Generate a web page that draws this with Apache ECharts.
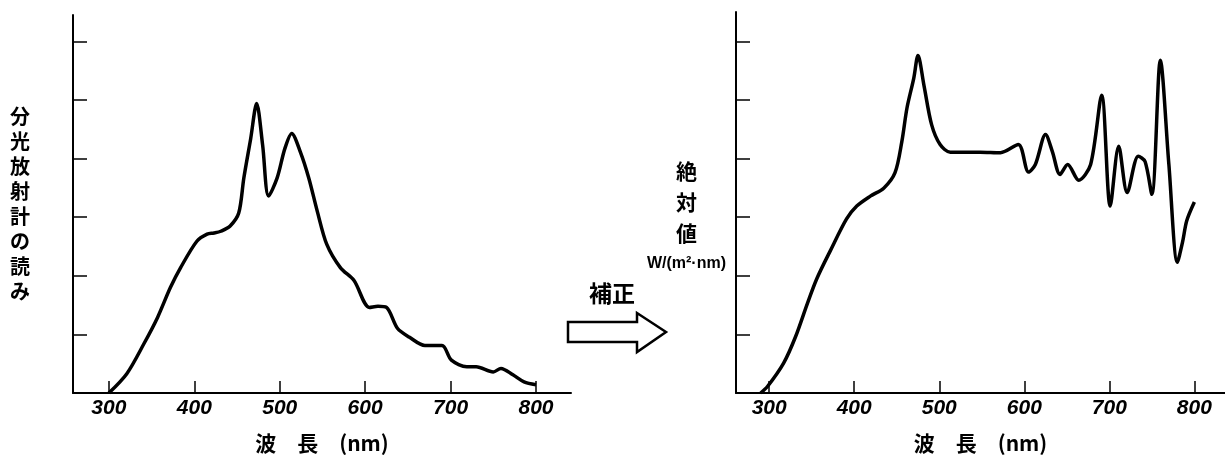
<!DOCTYPE html>
<html>
<head>
<meta charset="utf-8">
<script src="https://cdn.jsdelivr.net/npm/echarts@6/dist/echarts.min.js"></script>
<style>
  html, body { margin: 0; padding: 0; background: #fff; }
  #main { width: 1225px; height: 462px; }
</style>
</head>
<body>
<div id="main"></div>
<script>
// 波長目盛り
const xTicks = [300, 400, 500, 600, 700, 800];
const yTicks = [1, 2, 3, 4, 5, 6];

// 左: 分光放射計の読み
const rawWl = [300, 321, 341, 357, 372, 384, 403, 415, 423, 431, 442, 452, 458, 466, 473, 480, 487, 497, 506, 514, 524, 534, 544, 555, 571, 587, 605, 615, 625, 638, 652, 670, 690, 701, 719, 730, 750, 759, 773, 786, 800];
const rawVal = [0, 0.33, 0.84, 1.29, 1.80, 2.14, 2.59, 2.71, 2.73, 2.76, 2.85, 3.07, 3.67, 4.34, 4.94, 4.23, 3.36, 3.67, 4.17, 4.43, 4.12, 3.67, 3.10, 2.54, 2.14, 1.92, 1.46, 1.48, 1.46, 1.10, 0.95, 0.81, 0.81, 0.56, 0.45, 0.45, 0.36, 0.42, 0.31, 0.19, 0.14];

// 右: 補正後の絶対値
const absWl = [290, 298, 317, 331, 345, 356, 372, 391, 403, 419, 435, 448, 456, 462, 470, 475, 482, 491, 501, 513, 548, 572, 593, 605, 613, 625, 633, 642, 651, 664, 678, 691, 701, 711, 721, 734, 742, 750, 760, 770, 780, 786, 791, 800];
const absVal = [0, 0.11, 0.51, 0.96, 1.53, 1.95, 2.43, 2.97, 3.19, 3.36, 3.50, 3.76, 4.29, 4.86, 5.37, 5.76, 5.25, 4.58, 4.24, 4.11, 4.11, 4.10, 4.24, 3.77, 3.90, 4.41, 4.12, 3.73, 3.90, 3.63, 3.90, 5.08, 3.19, 4.21, 3.42, 4.04, 3.95, 3.39, 5.68, 3.90, 2.23, 2.57, 2.94, 3.26];

const pairs = (xs, ys) => xs.map((x, i) => [x, ys[i]]);

const chart = echarts.init(document.getElementById("main"));

const tickLabel = {
  customValues: xTicks,
  color: "#000",
  fontFamily: "Liberation Sans",
  fontStyle: "italic",
  fontWeight: "bold",
  fontSize: 21,
  margin: 5
};

function makeX(gridIndex, min, max) {
  return {
    type: "value",
    gridIndex: gridIndex,
    min: min,
    max: max,
    name: "波　長　(nm)",
    nameLocation: "middle",
    nameGap: 40,
    nameTextStyle: {
      color: "#000",
      fontFamily: "Noto Sans CJK JP",
      fontWeight: "bold",
      fontSize: 21
    },
    axisLine: { show: true, onZero: false, lineStyle: { color: "#000", width: 2 } },
    axisTick: { show: true, inside: true, length: 12, customValues: xTicks, lineStyle: { color: "#000", width: 1.5 } },
    axisLabel: tickLabel,
    splitLine: { show: false }
  };
}

function makeY(gridIndex, max, nameOpt) {
  return Object.assign({
    type: "value",
    gridIndex: gridIndex,
    min: 0,
    max: max,
    nameLocation: "middle",
    nameRotate: 0,
    axisLine: { show: true, onZero: false, lineStyle: { color: "#000", width: 2 } },
    axisTick: { show: true, inside: true, length: 14, customValues: yTicks, lineStyle: { color: "#000", width: 1.5 } },
    axisLabel: { show: false },
    splitLine: { show: false }
  }, nameOpt);
}

const option = {
  backgroundColor: "#fff",
  animation: false,
  grid: [
    { left: 73, top: 15, width: 498, height: 378 },
    { left: 736, top: 12, width: 489, height: 381 }
  ],
  xAxis: [makeX(0, 258, 841), makeX(1, 261, 836)],
  yAxis: [
    makeY(0, 378 / 58.6, {
      name: "分\n光\n放\n射\n計\nの\n読\nみ",
      nameGap: 43,
      nameTextStyle: {
        color: "#000",
        fontFamily: "Noto Sans CJK JP",
        fontWeight: "bold",
        fontSize: 20,
        lineHeight: 25,
        padding: [24, 0, 0, 0]
      }
    }),
    makeY(1, 381 / 58.6, {
      name: "{a|絶}\n{a|対}\n{a|値}\n{b|W/(m²·nm)}",
      nameGap: 10,
      nameTextStyle: {
        color: "#000",
        padding: [30, 0, 0, 0],
        rich: {
          a: { fontFamily: "Noto Sans CJK JP", fontWeight: "bold", fontSize: 21, lineHeight: 31, align: "center", color: "#000" },
          b: { fontFamily: "Liberation Sans", fontWeight: "bold", fontSize: 16, lineHeight: 31, align: "center", color: "#000" }
        }
      }
    })
  ],
  series: [
    {
      type: "line",
      xAxisIndex: 0,
      yAxisIndex: 0,
      data: pairs(rawWl, rawVal),
      smooth: 0.3,
      showSymbol: false,
      lineStyle: { color: "#000", width: 3.5 }
    },
    {
      type: "line",
      xAxisIndex: 1,
      yAxisIndex: 1,
      data: pairs(absWl, absVal),
      smooth: 0.3,
      showSymbol: false,
      lineStyle: { color: "#000", width: 3.5 }
    }
  ],
  graphic: [
    // 補正の矢印
    {
      type: "polygon",
      shape: { points: [[568, 322], [637, 322], [637, 313], [666, 332], [637, 352], [637, 342], [568, 342]] },
      style: { fill: "#fff", stroke: "#000", lineWidth: 2.5 }
    },
    {
      type: "text",
      x: 612,
      y: 293,
      style: {
        text: "補正",
        fill: "#000",
        font: "bold 23px 'Noto Sans CJK JP'",
        align: "center",
        verticalAlign: "middle"
      }
    }
  ]
};

chart.setOption(option);
</script>
</body>
</html>
